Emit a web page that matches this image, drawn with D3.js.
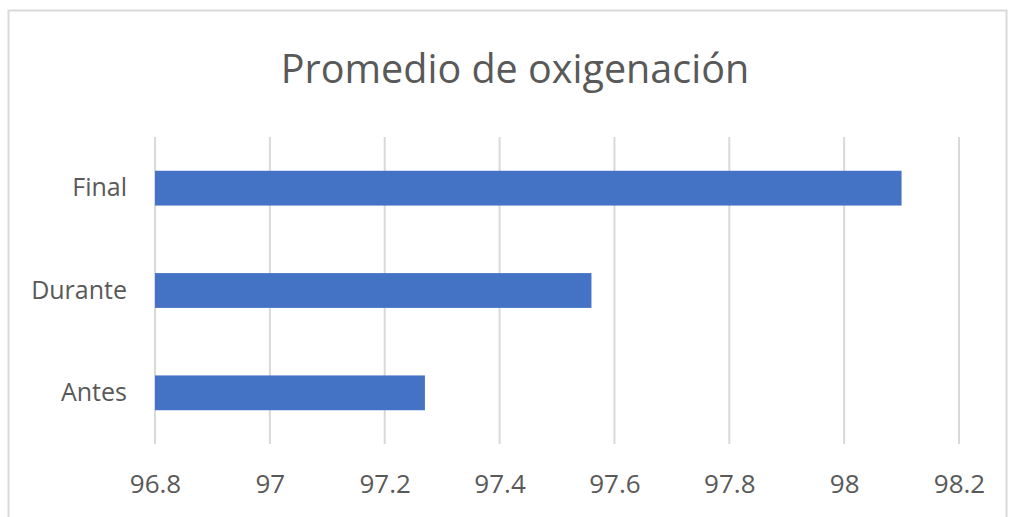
<!DOCTYPE html>
<html>
<head>
<meta charset="utf-8">
<script src="https://cdn.jsdelivr.net/npm/d3@7"></script>
<style>
body { margin: 0; background: #fff; }
svg text { font-family: "Open Sans", "Noto Sans", sans-serif; fill: #595959; }
</style>
</head>
<body>
<svg width="1010" height="517"></svg>
<script>
var categories = ["Final", "Durante", "Antes"];
var values = [98.1, 97.56, 97.27];
var tickValues = [96.8, 97, 97.2, 97.4, 97.6, 97.8, 98, 98.2];
var title = "Promedio de oxigenación";

var svg = d3.select("svg");

// outer chart border
svg.append("rect")
    .attr("x", 8.5)
    .attr("y", 10.5)
    .attr("width", 998)
    .attr("height", 520)
    .attr("fill", "none")
    .attr("stroke", "#d9d9d9")
    .attr("stroke-width", 2);

var x = d3.scaleLinear().domain([96.8, 98.2]).range([155, 959]);
var y = d3.scaleBand().domain(categories).range([137, 444]).paddingInner(0.66).paddingOuter(0.33);

// gridlines
svg.append("g")
    .selectAll("line")
    .data(tickValues)
    .enter()
    .append("line")
    .attr("x1", (d) => { return x(d); })
    .attr("x2", (d) => { return x(d); })
    .attr("y1", 137)
    .attr("y2", 444)
    .attr("stroke", "#d9d9d9")
    .attr("stroke-width", 2);

// bars
svg.append("g")
    .selectAll("rect")
    .data(values)
    .enter()
    .append("rect")
    .attr("x", x(96.8))
    .attr("y", (d, i) => { return y(categories[i]); })
    .attr("width", (d) => { return x(d) - x(96.8); })
    .attr("height", y.bandwidth())
    .attr("fill", "#4472c4");

// x axis labels
var xAxis = d3.axisBottom(x)
    .tickValues(tickValues)
    .tickFormat((d) => { return d3.format("")(+d.toFixed(1)); })
    .tickSize(0)
    .tickPadding(0);
var gx = svg.append("g")
    .attr("transform", "translate(0,475)")
    .call(xAxis);
gx.select(".domain").remove();
gx.selectAll("text")
    .attr("font-size", 26)
    .attr("dy", "0.71em")
    .style("fill", "#595959");

// y axis labels
var yAxis = d3.axisLeft(y).tickSize(0).tickPadding(28);
var gy = svg.append("g")
    .attr("transform", "translate(155,0)")
    .call(yAxis);
gy.select(".domain").remove();
gy.selectAll("text")
    .attr("font-size", 25)
    .style("fill", "#595959");

// title
svg.append("text")
    .attr("x", 515)
    .attr("y", 83)
    .attr("text-anchor", "middle")
    .attr("font-size", 39.5)
    .text(title);
</script>
</body>
</html>
